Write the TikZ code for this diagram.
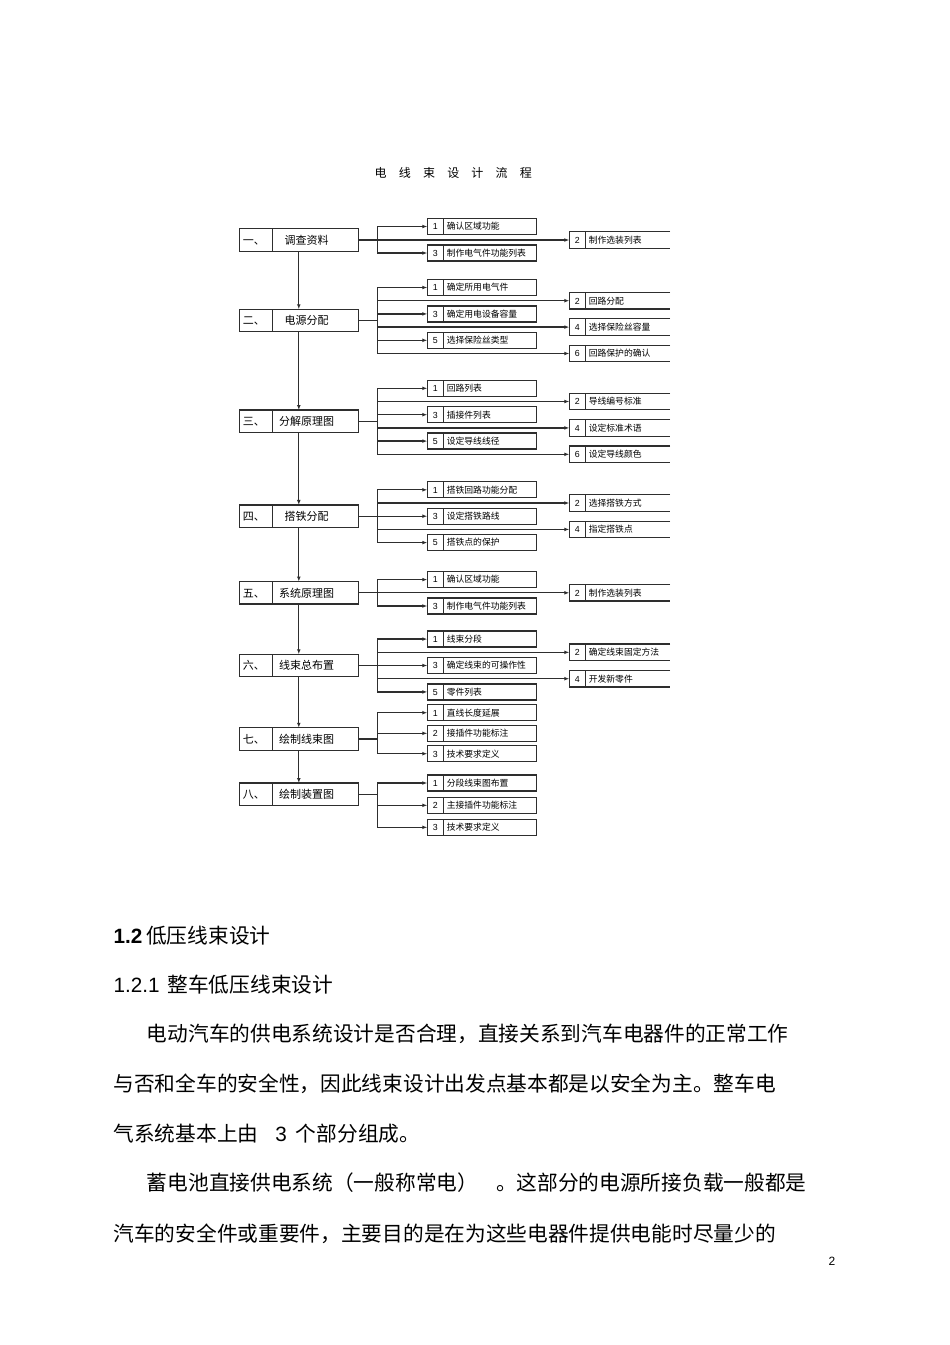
\documentclass[tikz,border=0pt]{standalone}
\usepackage{fontspec}
\setmainfont{Noto Sans CJK SC}
\newfontfamily\arial{Liberation Sans}
\usetikzlibrary{arrows.meta, positioning}

\begin{document}
\begin{tikzpicture}[
    x=1pt, y=-1pt,
    wire/.style={draw=black!82, line width=1.25pt},
    arrow/.style={wire, -{Latex[length=5pt, width=3.8pt]}},
    mainbox/.style={wire, rectangle, minimum width=119pt, minimum height=22.5pt, inner sep=0pt, outer sep=0pt,
        font=\fontsize{11}{13}\selectfont,
        path picture={\draw[wire] ([xshift=33.4pt]path picture bounding box.north west) -- ([xshift=33.4pt]path picture bounding box.south west);}},
    sub/.style={wire, rectangle, minimum height=16pt, text width=109.4pt, align=left, inner sep=0pt, outer sep=0pt,
        font=\fontsize{8.8}{10}\selectfont,
        path picture={\draw[wire] ([xshift=16pt]path picture bounding box.north west) -- ([xshift=16pt]path picture bounding box.south west);}},
    opt/.style={rectangle, minimum height=16.5pt, text width=100.7pt, align=left, inner sep=0pt, outer sep=0pt,
        font=\fontsize{8.8}{10}\selectfont},
    para/.style={anchor=west, inner sep=0pt, font=\fontsize{20.7}{24}\selectfont}
]
\path[use as bounding box, fill=white] (0,0) rectangle (950,1345);

% 标题
\node[font=\fontsize{12}{14}\selectfont] (title) at (453.3,173.3)
    {电\hspace{12.2pt}线\hspace{12.2pt}束\hspace{12.2pt}设\hspace{12.2pt}计\hspace{12.2pt}流\hspace{12.2pt}程};

% 主流程
\node[mainbox] (m1) at (298.8,240) {\makebox[33.4pt][l]{\hspace{3.5pt}一、}\makebox[85.6pt]{调查资料\hspace{17.6pt}}};
\node[mainbox, below=58pt of m1] (m2) {\makebox[33.4pt][l]{\hspace{3.5pt}二、}\makebox[85.6pt]{电源分配\hspace{17.6pt}}};
\node[mainbox, below=78.3pt of m2] (m3) {\makebox[33.4pt][l]{\hspace{3.5pt}三、}\makebox[85.6pt]{分解原理图\hspace{17.6pt}}};
\node[mainbox, below=72.4pt of m3] (m4) {\makebox[33.4pt][l]{\hspace{3.5pt}四、}\makebox[85.6pt]{搭铁分配\hspace{17.6pt}}};
\node[mainbox, below=54.1pt of m4] (m5) {\makebox[33.4pt][l]{\hspace{3.5pt}五、}\makebox[85.6pt]{系统原理图\hspace{17.6pt}}};
\node[mainbox, below=50.2pt of m5] (m6) {\makebox[33.4pt][l]{\hspace{3.5pt}六、}\makebox[85.6pt]{线束总布置\hspace{17.6pt}}};
\node[mainbox, below=51pt of m6] (m7) {\makebox[33.4pt][l]{\hspace{3.5pt}七、}\makebox[85.6pt]{绘制线束图\hspace{17.6pt}}};
\node[mainbox, below=32.8pt of m7] (m8) {\makebox[33.4pt][l]{\hspace{3.5pt}八、}\makebox[85.6pt]{绘制装置图\hspace{17.6pt}}};

\foreach \i/\j in {m1/m2, m2/m3, m3/m4, m4/m5, m5/m6, m6/m7, m7/m8}
    \draw[arrow] (\i) -- (\j);

% 分支节点
\foreach \g in {1,...,8} {
    \coordinate (j\g) at ([xshift=19.4pt]m\g.east);
    \draw[wire] (m\g.east) -- (j\g);
}

% 左列
\foreach \g/\k/\dy/\txt in {1/1/13.5/确认区域功能, 1/3/-13/制作电气件功能列表,
        2/1/33/确定所用电气件, 2/3/6.6/确定用电设备容量, 2/5/-19.8/选择保险丝类型,
        3/1/33/回路列表, 3/3/6.6/插接件列表, 3/5/-19.8/设定导线线径,
        4/1/26.4/搭铁回路功能分配, 4/3/0/设定搭铁路线, 4/5/-26.4/搭铁点的保护,
        5/1/13.2/确认区域功能, 5/3/-13.2/制作电气件功能列表,
        6/1/26.4/线束分段, 6/3/0/确定线束的可操作性, 6/5/-26.4/零件列表,
        7/1/26.3/直线长度延展, 7/2/5.7/接插件功能标注, 7/3/-14.7/技术要求定义,
        8/1/11.3/分段线束图布置, 8/2/-11/主接插件功能标注, 8/3/-33/技术要求定义} {
    \node[sub, right=69pt of m\g, yshift=\dy pt] (b\g\k) {\makebox[16pt]{\arial\k}\hspace{3.5pt}\txt};
    \draw[arrow] (j\g) |- (b\g\k.west);
}

% 右列
\foreach \g/\k/\dy/\txt in {1/2/0/制作选装列表,
        2/2/19.8/回路分配, 2/4/-6.6/选择保险丝容量, 2/6/-33/回路保护的确认,
        3/2/19.8/导线编号标准, 3/4/-6.6/设定标准术语, 3/6/-33/设定导线颜色,
        4/2/13.2/选择搭铁方式, 4/4/-13.2/指定搭铁点,
        5/2/0/制作选装列表,
        6/2/13.2/确定线束固定方法, 6/4/-13.2/开发新零件} {
    \node[opt, right=211pt of m\g, yshift=\dy pt] (b\g\k) {\makebox[16pt]{\arial\k}\hspace{3.5pt}\txt};
    \draw[wire] (b\g\k.north east) -- (b\g\k.north west) -- (b\g\k.south west) -- (b\g\k.south east)
        ([xshift=16pt]b\g\k.north west) -- ([xshift=16pt]b\g\k.south west);
    \draw[arrow] (j\g) |- (b\g\k.west);
}

% 正文
\node[para] (h1) at (113.3,936) {{\arial\bfseries 1.2}\hspace{4pt}低压线束设计};
\node[para] (h2) at (113.3,985) {{\arial 1.2.1}\hspace{8pt}整车低压线束设计};
\node[para] (p1) at (146.7,1034) {电动汽车的供电系统设计是否合理，直接关系到汽车电器件的正常工作};
\node[para] (p2) at (113.3,1084) {与否和全车的安全性，因此线束设计出发点基本都是以安全为主。整车电};
\node[para] (p3) at (113.3,1134) {气系统基本上由\hspace{17pt}{\arial 3}\hspace{9pt}个部分组成。};
\node[para] (p4) at (146.7,1183) {蓄电池直接供电系统（一般称常电）\hspace{18pt}。这部分的电源所接负载一般都是};
\node[para] (p5) at (113.3,1234) {汽车的安全件或重要件，主要目的是在为这些电器件提供电能时尽量少的};
\node[font=\arial\fontsize{12}{14}\selectfont] (page) at (832,1261) {2};

\end{tikzpicture}
\end{document}
